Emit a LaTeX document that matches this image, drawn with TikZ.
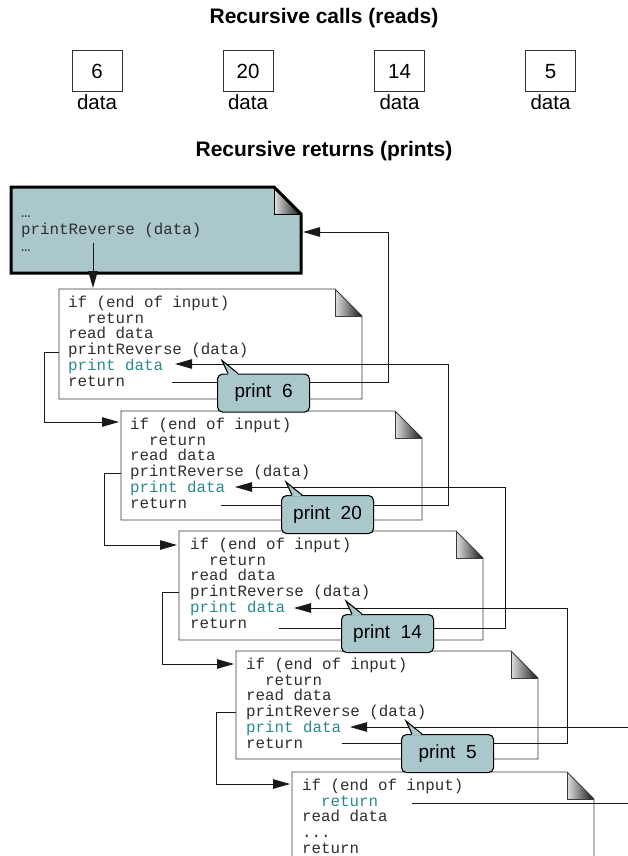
\documentclass[tikz,border=0pt]{standalone}
\usepackage{fontspec}
\setmainfont{Liberation Sans}
\newfontfamily\codefont{Liberation Mono}
\usetikzlibrary{arrows.meta}
\definecolor{tealfill}{HTML}{AAC8CC}
\definecolor{tealtext}{HTML}{2A8A8C}
\definecolor{codegray}{HTML}{2E2E2E}
\definecolor{boxline}{HTML}{3A3A3A}

% document page outline with folded corner: L, T, R, B, style
\newcommand\docpage[5]{%
  \fill[#5] (#1,#2) -- (#3-27,#2) -- (#3,#2+27) -- (#3,#4) -- (#1,#4) -- cycle;
  \shade[left color=white!88!black, right color=black!92] (#3-27,#2) -- (#3-27,#2+27) -- (#3,#2+27) -- cycle;
  \draw[boxline, line width=0.9pt] (#3-27,#2) -- (#3-27,#2+27) -- (#3,#2+27);
}
% callout: name, L, T, text
\newcommand\callout[4]{%
  \node[callbox, anchor=north west] (#1) at (#2,#3) {#4};
  \fill[tealfill] (#2+11,#3+1.3) -- (#2+5,#3-13) -- (#2+21,#3+1.3) -- cycle;
  \draw[line width=1.1pt, line join=miter] (#2+11,#3) -- (#2+5,#3-13) -- (#2+21,#3);
}
% standard code lines: prefix, x, top
\newcommand\stdcode[3]{%
  \node[code] (#1a) at (#2,#3+18.5) {if (end of input)};
  \node[code] (#1b) at (#2,#3+34.2) {\ \ return};
  \node[code] (#1c) at (#2,#3+49.9) {read data};
  \node[code] (#1d) at (#2,#3+65.6) {printReverse (data)};
  \node[code, text=tealtext] (#1e) at (#2,#3+81.3) {print data};
  \node[code] (#1f) at (#2,#3+97) {return};
}

\begin{document}
\begin{tikzpicture}[x=1pt, y=-1pt,
  code/.style={anchor=base west, inner sep=0pt, font=\codefont\fontsize{15.8}{15.8}\selectfont, text=codegray},
  conn/.style={draw=black!90, line width=1pt},
  arr/.style={conn, -{Triangle[length=17pt, width=9.5pt]}},
  callbox/.style={rectangle, rounded corners=5pt, fill=tealfill, draw=black, line width=1.1pt,
    minimum width=92pt, minimum height=38pt, inner sep=0pt, font=\fontsize{19}{22}\selectfont},
  valbox/.style={rectangle, draw=black!80, line width=1pt, minimum width=50pt, minimum height=41pt,
    inner sep=0pt, font=\fontsize{20.5}{24}\selectfont},
  lab/.style={anchor=base, inner sep=0pt, font=\fontsize{20.5}{24}\selectfont},
  ttl/.style={anchor=base, inner sep=0pt, font=\bfseries\fontsize{21}{25}\selectfont}
]
\useasboundingbox (0,0) rectangle (628,856);
\clip (0,0) rectangle (628,856);

% ---- header
\node[ttl] (title1) at (324,24) {Recursive calls (reads)};
\node[valbox] (v1) at (97,71.5) {6};
\node[valbox] (v2) at (248,71.5) {20};
\node[valbox] (v3) at (399.5,71.5) {14};
\node[valbox] (v4) at (550.5,71.5) {5};
\node[lab] (d1) at (97,110) {data};
\node[lab] (d2) at (248,110) {data};
\node[lab] (d3) at (399.5,110) {data};
\node[lab] (d4) at (550.5,110) {data};
\node[ttl] (title2) at (324,157) {Recursive returns (prints)};

% ---- caller (teal) page
\fill[tealfill] (11,187) -- (274,187) -- (301,214) -- (301,273) -- (11,273) -- cycle;
\shade[left color=white!88!black, right color=black!92] (274,187) -- (274,214) -- (301,214) -- cycle;
\draw[line width=0.9pt] (274,187) -- (274,214) -- (301,214);
\draw[line width=3pt, line join=miter] (11,187) -- (274,187) -- (301,214) -- (301,273) -- (11,273) -- cycle;
\node[code] (t1) at (21,217) {…};
\node[code] (t2) at (21,234) {printReverse (data)};
\node[code] (t3) at (21,251) {…};

% ---- code pages
\docpage{59}{289}{362}{399}{white}
\draw[boxline, line width=0.9pt] (59,289) -- (335,289) -- (362,316) -- (362,399) -- (59,399) -- cycle;
\stdcode{p1}{68}{289}

\docpage{121}{411}{422}{520}{white}
\draw[boxline, line width=0.9pt] (121,411) -- (395,411) -- (422,438) -- (422,520) -- (121,520) -- cycle;
\stdcode{p2}{130}{411}

\docpage{179}{531}{483}{640}{white}
\draw[boxline, line width=0.9pt] (179,531) -- (456,531) -- (483,558) -- (483,640) -- (179,640) -- cycle;
\stdcode{p3}{190}{531}

\docpage{236}{651}{538}{759}{white}
\draw[boxline, line width=0.9pt] (236,651) -- (511,651) -- (538,678) -- (538,759) -- (236,759) -- cycle;
\stdcode{p4}{246}{651}

\docpage{292}{772}{594}{880}{white}
\draw[boxline, line width=0.9pt] (292,880) -- (292,772) -- (567,772) -- (594,799) -- (594,880);
\node[code] (p5a) at (302,790.5) {if (end of input)};
\node[code, text=tealtext] (p5b) at (302,806.2) {\ \ return};
\node[code] (p5c) at (302,821.9) {read data};
\node[code] (p5d) at (302,837.6) {...};
\node[code] (p5e) at (302,853.3) {return};

% ---- connector end points
\coordinate (k0s) at (93,243);  \coordinate (k0e) at (93,288);
\coordinate (k1s) at (59,352);  \coordinate (k1c) at (44,422);  \coordinate (k1e) at (119,422);
\coordinate (k2s) at (121,473); \coordinate (k2c) at (104,545); \coordinate (k2e) at (177,545);
\coordinate (k3s) at (179,592); \coordinate (k3c) at (162,664); \coordinate (k3e) at (234,664);
\coordinate (k4s) at (236,712); \coordinate (k4c) at (216,784); \coordinate (k4e) at (290,784);

\coordinate (r1s) at (172,382); \coordinate (r1c) at (388,232); \coordinate (r1e) at (303,232);
\coordinate (r2s) at (221,505); \coordinate (r2c) at (448,364); \coordinate (r2e) at (175,364);
\coordinate (r3s) at (279,628); \coordinate (r3c) at (505,487); \coordinate (r3e) at (235,487);
\coordinate (r4s) at (342,743); \coordinate (r4c) at (567,608); \coordinate (r4e) at (294,608);
\coordinate (r5s) at (412,803); \coordinate (r5e) at (640,803);
\coordinate (i4s) at (640,727); \coordinate (i4e) at (350,727);

% ---- calls
\draw[arr] (k0s) -- (k0e);
\draw[arr] (k1s) -| (k1c) -- (k1e);
\draw[arr] (k2s) -| (k2c) -- (k2e);
\draw[arr] (k3s) -| (k3c) -- (k3e);
\draw[arr] (k4s) -| (k4c) -- (k4e);

% ---- returns
\draw[arr] (r1s) -| (r1c) -- (r1e);
\draw[arr] (r2s) -| (r2c) -- (r2e);
\draw[arr] (r3s) -| (r3c) -- (r3e);
\draw[arr] (r4s) -| (r4c) -- (r4e);
\draw[conn] (r5s) -- (r5e);
\draw[arr] (i4s) -- (i4e);

% ---- callouts
\callout{c1}{217}{373.5}{print\ \ 6}
\callout{c2}{281}{495}{print\ \ 20}
\callout{c3}{341}{614}{print\ \ 14}
\callout{c4}{401}{734}{print\ \ 5}
\end{tikzpicture}
\end{document}
